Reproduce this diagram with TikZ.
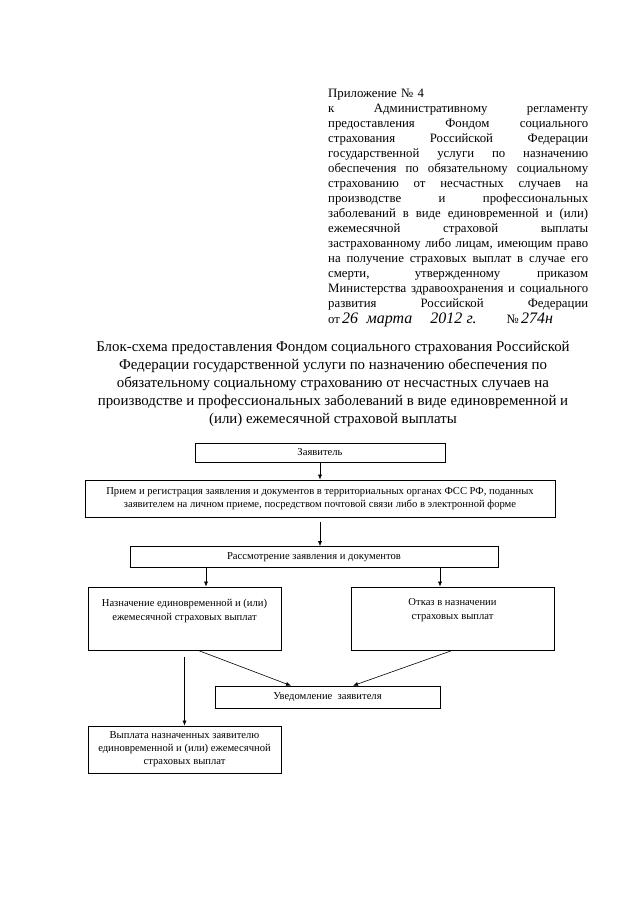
\documentclass[tikz,border=0pt]{standalone}
\usepackage{fontspec}
\setmainfont{Liberation Serif}
\usetikzlibrary{arrows.meta,positioning}
% one justified line of the heading block
\newcommand{\jl}[1]{\leavevmode\hbox to 260pt{\spaceskip=3.2pt plus 1fil\relax #1}}
% handwritten parts of the date line
\newcommand{\hw}[1]{{\itshape\fontsize{16}{16}\selectfont #1}}

\begin{document}
\begin{tikzpicture}[x=1pt, y=-1pt, >={Latex[length=5pt,width=4pt]},
  blk/.style={draw, line width=0.7pt, inner sep=2pt, align=center,
              font=\fontsize{10.6}{13}\selectfont},
  txt/.style={inner sep=0pt, align=center, font=\fontsize{10.6}{14}\selectfont},
  flow/.style={->, line width=0.6pt}]
  \fill[white] (0,0) rectangle (640,905);
  \useasboundingbox (0,0) rectangle (640,905);

  % heading block
  \node[anchor=north west, inner sep=0pt, text width=260pt,
        font=\fontsize{12.8}{15}\selectfont] (hdr) at (328,89)
    {Приложение № 4\\
     \jl{к Административному регламенту}\\
     \jl{предоставления Фондом социального}\\
     \jl{страхования Российской Федерации}\\
     \jl{государственной услуги по назначению}\\
     \jl{обеспечения по обязательному социальному}\\
     \jl{страхованию от несчастных случаев на}\\
     \jl{производстве и профессиональных}\\
     \jl{заболеваний в виде единовременной и (или)}\\
     \jl{ежемесячной страховой выплаты}\\
     \jl{застрахованному либо лицам, имеющим право}\\
     \jl{на получение страховых выплат в случае его}\\
     \jl{смерти, утвержденному приказом}\\
     \jl{Министерства здравоохранения и социального}\\
     \jl{развития Российской Федерации}\\[1pt]
     от\,\hw{26\ \ марта}\hspace{18pt}\hw{2012 г.}\hspace{30pt}№\,\hw{274н}};

  \node[align=center, inner sep=0pt, font=\fontsize{14.9}{18}\selectfont] (title) at (333,384)
    {Блок-схема предоставления Фондом социального страхования Российской\\
     Федерации государственной услуги по назначению обеспечения по\\
     обязательному социальному страхованию от несчастных случаев на\\
     производстве и профессиональных заболеваний в виде единовременной и\\
     (или) ежемесячной страховой выплаты};

  % flow chart
  \node[blk, minimum width=250pt, minimum height=19pt] (b1) at (320,452.5) {Заявитель};
  \node[blk, minimum width=470pt, minimum height=37pt] (b2) at (320,498.5)
    {Прием и регистрация заявления и документов в территориальных органах ФСС РФ, поданных\\
     заявителем на личном приеме, посредством почтовой связи либо в электронной форме};
  \node[blk, minimum width=368pt, minimum height=21pt] (b3) at (314,557)
    {Рассмотрение заявления и документов};
  \node[blk, minimum width=193pt, minimum height=63pt] (b4) at (184.5,618.5) {};
  \node[txt, below=12pt of b4.north] (t4)
    {Назначение единовременной и (или)\\ ежемесячной страховых выплат};
  \node[blk, minimum width=203pt, minimum height=63pt] (b5) at (452.5,618.5) {};
  \node[txt, below=12pt of b5.north] (t5)
    {Отказ в назначении\\ страховых выплат};
  \node[blk, minimum width=225pt, minimum height=22pt] (b6) at (327.5,697)
    {Уведомление\ \ заявителя};
  \node[blk, minimum width=193pt, minimum height=47pt] (b7) at (184.5,749.5)
    {Выплата назначенных заявителю\\ единовременной и (или) ежемесячной\\ страховых выплат};

  \draw[flow] (b1) -- (b2);
  \draw[flow, shorten <=5pt] (b2.south) -- (b2.south |- b3.north);
  \draw[flow] ([xshift=21.5pt]b4.north |- b3.south) -- ([xshift=21.5pt]b4.north);
  \draw[flow] ([xshift=-12.5pt]b5.north |- b3.south) -- ([xshift=-12.5pt]b5.north);
  \draw[flow] ([xshift=13.5pt]b4.south) -- ([xshift=-36.5pt]b6.north);
  \draw[flow] (b5.south) -- ([xshift=25.5pt]b6.north);
  \draw[flow, shorten <=7pt] (b7.north |- b4.south) -- (b7.north);
\end{tikzpicture}
\end{document}
